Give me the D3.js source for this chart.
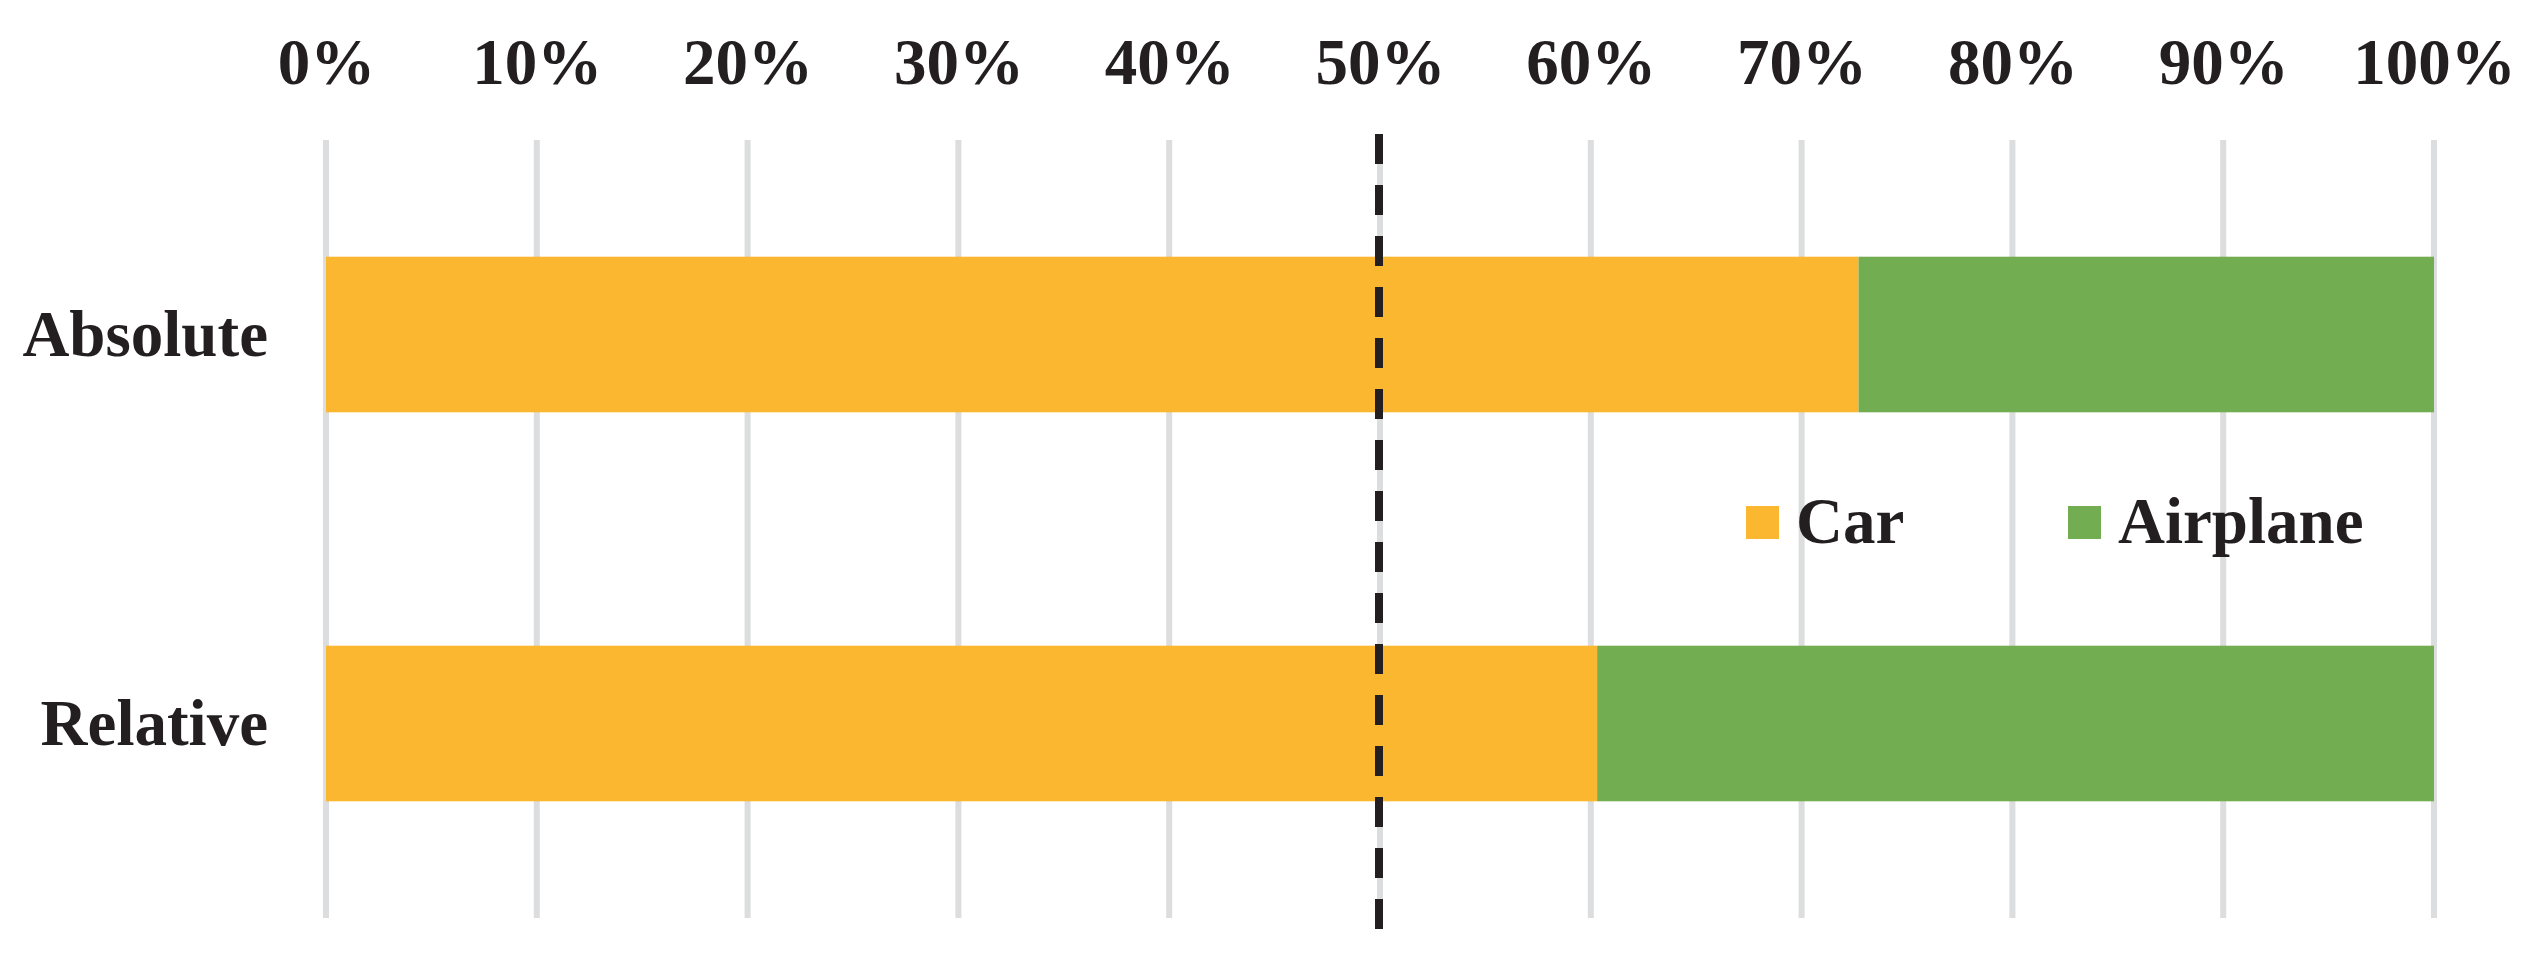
<!DOCTYPE html>
<html>
<head>
<meta charset="utf-8">
<script src="https://cdn.jsdelivr.net/npm/d3@7"></script>
<style>
  html, body { margin: 0; padding: 0; background: #ffffff; }
  svg { display: block; }
  text { font-family: "Liberation Serif", "Times New Roman", serif; font-weight: bold; fill: #231F20; }
</style>
</head>
<body>
<script>
const categories = ["Absolute", "Relative"];
const seriesNames = ["Car", "Airplane"];
const carValues = [72.7, 60.3];
const airplaneValues = [27.3, 39.7];
const tickValues = [0, 10, 20, 30, 40, 50, 60, 70, 80, 90, 100];
const referenceValue = 50;

const colors = { Car: "#FCB730", Airplane: "#73AD52" };

const W = 2540, H = 972;
const svg = d3.select("body").append("svg").attr("width", W).attr("height", H);

const x = d3.scaleLinear().domain([0, 100]).range([326, 2434]);
const y = d3.scaleBand().domain(categories).range([140, 918]).paddingInner(0.6).paddingOuter(0.3);

// gridlines
svg.append("g").selectAll("line").data(tickValues).join("line")
  .attr("x1", d => x(d)).attr("x2", d => x(d))
  .attr("y1", 140).attr("y2", 918)
  .attr("stroke", "#DCDDDE").attr("stroke-width", 6);

// top axis labels
const axis = d3.axisTop(x).tickValues(tickValues).tickFormat(d => d + "%").tickSize(0).tickPadding(0);
const gAxis = svg.append("g").attr("transform", "translate(0,84)").call(axis);
gAxis.select(".domain").remove();
gAxis.selectAll("text").attr("font-size", 65).attr("dy", 0)
  .style("font-family", "'Liberation Serif', 'Times New Roman', serif").style("font-weight", "bold").attr("fill", "#231F20");

// stacked bars
const rows = categories.map((c, i) => ({ cat: c, Car: carValues[i], Airplane: airplaneValues[i] }));
const stack = d3.stack().keys(seriesNames)(rows);
svg.append("g").selectAll("g").data(stack).join("g")
  .attr("fill", d => colors[d.key])
  .selectAll("rect").data(d => d).join("rect")
  .attr("x", d => x(d[0]))
  .attr("width", d => x(d[1]) - x(d[0]))
  .attr("y", d => y(d.data.cat))
  .attr("height", y.bandwidth());

// category labels
svg.append("g").selectAll("text").data(categories).join("text")
  .attr("x", 268)
  .attr("y", d => y(d) + y.bandwidth() / 2 + 21)
  .attr("text-anchor", "end")
  .attr("font-size", 65)
  .text(d => d);

// dashed reference line
svg.append("line")
  .attr("x1", x(referenceValue) - 1).attr("x2", x(referenceValue) - 1)
  .attr("y1", 134).attr("y2", 929)
  .attr("stroke", "#231F20").attr("stroke-width", 8)
  .attr("stroke-dasharray", "30 21");

// legend
const legendX = [1746, 2068];
const legend = svg.append("g").selectAll("g").data(seriesNames).join("g")
  .attr("transform", (d, i) => `translate(${legendX[i]},506)`);
legend.append("rect").attr("width", 33).attr("height", 33).attr("fill", d => colors[d]);
legend.append("text").attr("x", 50).attr("y", 37).attr("font-size", 65).text(d => d);
</script>
</body>
</html>
